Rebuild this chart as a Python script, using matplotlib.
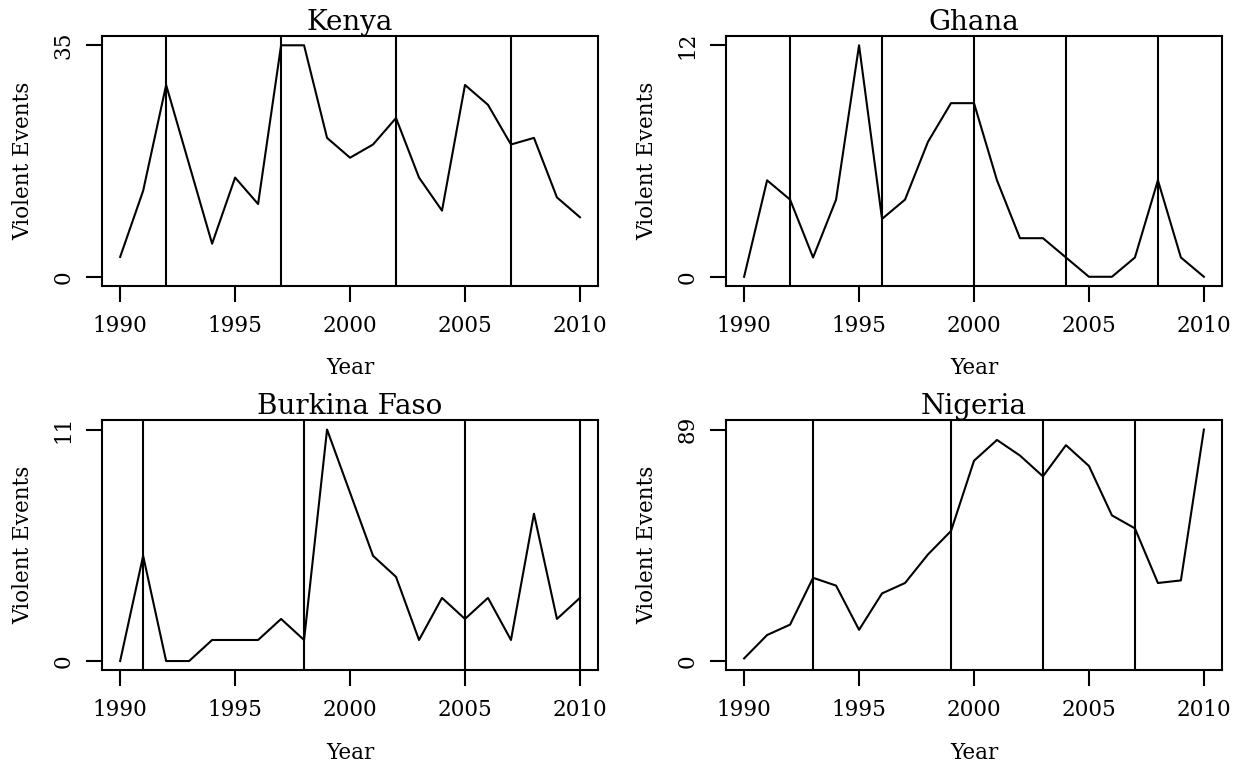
#!/usr/bin/env python3
"""
Violent events per year for four countries, with election years marked
as vertical lines. 2x2 panel layout, base-graphics look.
"""

import matplotlib
matplotlib.use("Agg")
import matplotlib.pyplot as plt


YEARS = list(range(1990, 2011))

KENYA = [3, 13, 29, 17, 5, 15, 11, 35, 35, 21, 18, 20, 24, 15, 10, 29, 26, 20, 21, 12, 9]
GHANA = [0, 5, 4, 1, 4, 12, 3, 4, 7, 9, 9, 5, 2, 2, 1, 0, 0, 1, 5, 1, 0]
BURKINA_FASO = [0, 5, 0, 0, 1, 1, 1, 2, 1, 11, 8, 5, 4, 1, 3, 2, 3, 1, 7, 2, 3]
NIGERIA = [1, 10, 14, 32, 29, 12, 26, 30, 41, 50, 77, 85, 79, 71, 83, 75, 56, 51, 30, 31, 89]

KENYA_ELECTIONS = [1992, 1997, 2002, 2007]
GHANA_ELECTIONS = [1992, 1996, 2000, 2004, 2008]
BURKINA_FASO_ELECTIONS = [1991, 1998, 2005, 2010]
NIGERIA_ELECTIONS = [1993, 1999, 2003, 2007]

X_TICKS = [1990, 1995, 2000, 2005, 2010]

PANELS = [
    ("Kenya", KENYA, KENYA_ELECTIONS),
    ("Ghana", GHANA, GHANA_ELECTIONS),
    ("Burkina Faso", BURKINA_FASO, BURKINA_FASO_ELECTIONS),
    ("Nigeria", NIGERIA, NIGERIA_ELECTIONS),
]

# axes boxes in figure fractions: [left, bottom, width, height]
AXES_POS = [
    [0.0822, 0.6261, 0.4011, 0.3268],
    [0.5862, 0.6261, 0.4011, 0.3268],
    [0.0822, 0.1238, 0.4011, 0.3268],
    [0.5862, 0.1238, 0.4011, 0.3268],
]

LW = 1.5
plt.rcParams["font.family"] = ["DejaVu Serif"]


def draw_panel(fig, pos, title, values, elections):
    ax = fig.add_axes(pos)
    ymax = max(values)

    ax.plot(YEARS, values, color="black", lw=LW)
    for yr in elections:
        ax.axvline(yr, color="black", lw=LW)

    # 4% padding on both axes, like R's default "r" axis style
    xpad = (YEARS[-1] - YEARS[0]) * 0.04
    ax.set_xlim(YEARS[0] - xpad, YEARS[-1] + xpad)
    ax.set_ylim(-0.04 * ymax, ymax * 1.04)

    ax.set_xticks(X_TICKS)
    ax.set_yticks([0, ymax])
    ax.set_yticklabels([str(0), str(ymax)], rotation=90, va="center")

    ax.tick_params(axis="both", direction="out", length=11.5, width=LW,
                   labelsize=15.5, color="black")
    ax.tick_params(axis="x", pad=9)
    ax.tick_params(axis="y", pad=8)

    for spine in ax.spines.values():
        spine.set_linewidth(LW)
        spine.set_color("black")

    ax.set_title(title, fontsize=20, pad=3)
    ax.set_xlabel("Year", fontsize=15.5, labelpad=15)
    ax.set_ylabel("Violent Events", fontsize=15.5, labelpad=13)
    return ax


def main():
    fig = plt.figure(figsize=(12.38, 7.65), dpi=100)
    for pos, (title, values, elections) in zip(AXES_POS, PANELS):
        draw_panel(fig, pos, title, values, elections)
    fig.savefig("out.png", dpi=100)
    plt.close(fig)


if __name__ == "__main__":
    main()
